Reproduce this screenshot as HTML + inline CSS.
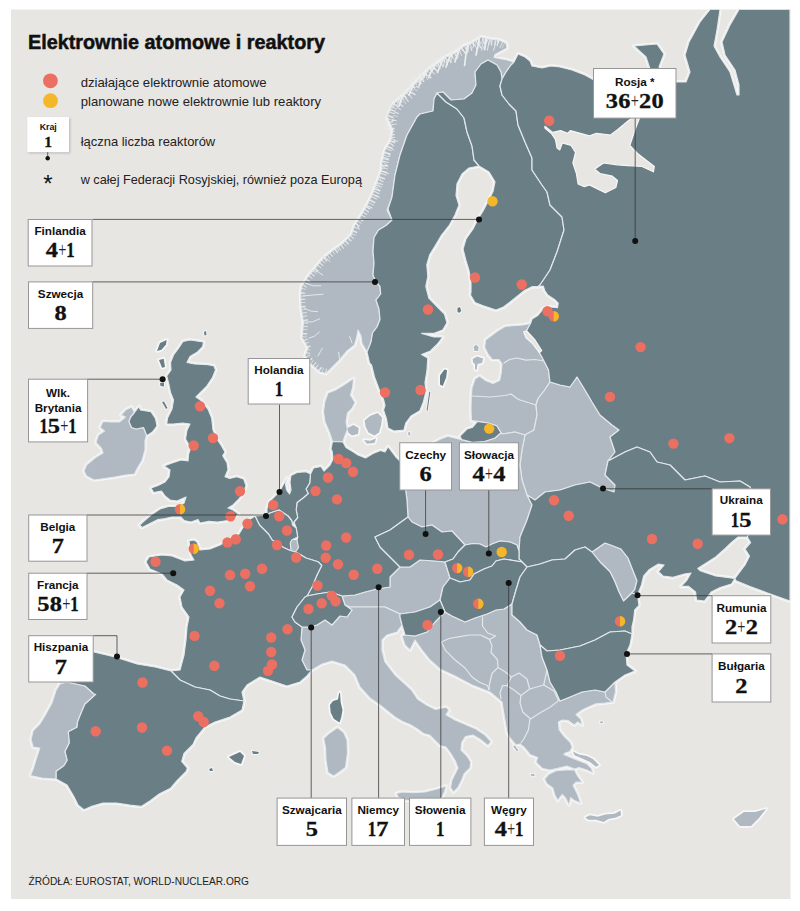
<!DOCTYPE html>
<html><head><meta charset="utf-8"><title>Elektrownie atomowe i reaktory</title>
<style>html,body{margin:0;padding:0;background:#fff}body{width:800px;height:911px;overflow:hidden}svg{display:block}text{font-family:"Liberation Sans",sans-serif}.n{font-family:"Liberation Serif",serif;font-weight:bold}</style></head><body>
<svg width="800" height="911" viewBox="0 0 800 911">
<defs><clipPath id="c"><rect x="11" y="9.5" width="779.5" height="889.5"/></clipPath><filter id="sh" x="-20%" y="-20%" width="140%" height="140%"><feGaussianBlur stdDeviation="1.2"/></filter></defs>
<rect width="800" height="911" fill="#fff"/>
<rect x="11" y="9.5" width="779.5" height="889.5" fill="#e8e6e2"/>
<g clip-path="url(#c)">
<g fill="#f6f7f6" stroke="#f6f7f6" stroke-width="3.6" stroke-linejoin="round">
<polygon points="367,352 371,342 372.5,333 377,327 380,319.5 379,309 376,300 380.7,294 380,286.5 375.5,281 373,275 374,263 373,251 374,237.5 378.5,230 386,225.5 392,220 388,209 391,200 392,197 395,175 400,155 407,135 417,117 420,114 433,111 434,99 437,93 446,102 457,109 464,118 467,132 472,146 474,160 479,166 469,168 462,174 457,183.7 456,195.5 459,205 455,215 449.5,225 441.6,235 435.7,245 429.7,254.8 426.8,264.7 427.8,276.5 425.8,286.4 428.8,298 437.5,307 444.5,314 447,322.8 442.7,330 434,333.4 421.6,333.4 434,337 442.7,337 437.5,344 430.4,351 421.6,354.5 427.8,358 427,370.3 425,382.6 426,391.4 423.4,402 419.9,410.7 411,416 405.8,423 404,430 394,431 388,428 386.5,419 383.5,410 385,405.5 383.5,399.5 379,389 374.5,377 371.5,365 369.5,363"/>
<polygon points="444.5,369.4 447,370.3 446.2,377.3 442.7,386 440,384.4 440,375.6"/>
<polygon points="429.3,391.4 430.3,392 427.6,410.7 426.6,410.5" stroke-width="1.8"/>
<polygon points="457.4,308 460,307 461.3,311 459,313 457.5,311.5" stroke-width="1.8"/>
<polygon points="437,93 443,92 451,100 464,99 472,93 476,85 475,72 481,64 488,60 497,65 501,72 502,79 500,86 502,95 509,104 516,111 518,125 525,142 532,158 532,170 542,185 547,192 550,205 562,217 564,230 557,252 550,270 540,285 538,286.7 532,286.7 524.5,290.5 517,296.5 509.5,302.5 503.5,307 496,310 491.5,308.5 482.5,305.5 475,302.5 470.5,295 471,292 471,282.4 469,270.6 466,260.7 463,249 466,239 473,229 478,219 483,211 489,199.5 493,191.6 495,181.7 489,172 479,166 474,160 472,146 467,132 464,118 457,109 446,102"/>
<polygon points="514,62 518,54 525,57 530,61 532,66 542,68 551,66 560,67 572,70 585,75 594,80 600,85 625,95 645,100 650,69 646,57 634,46 657,44 664,54 659,67 665,75 675,82 686,82 690,72 685,55 689,42 700,22 710,9.5 720,9.5 717,30 714,46 720,57 730,72 737,95 739,95 739,85 735,70 725,55 722,42 730,25 739,9.5 790,9.5 790,601 767.5,593 749.5,586.4 736,580.7 734.9,578.5 738.2,574 745,565 749.5,556 745,549 750.6,542.5 747.2,537 758,510 750,487 740,481 720,482 705,476 685,480 680,475 670,465 657,462 650,452 637,447 625,452 610,460 608,461 615,452 610,437 619,430 612,425 600,415 592,402 585,390 577,377 570,387 560,385 550,382 548.5,370 544,361 539.5,352.7 535,343 526,331.7 530.5,323.5 532,319 538,315.2 544,307.7 550,307 557.5,307.7 558.2,303.2 554.5,299.5 547.7,295 544.7,290.5 543.2,286 538,286.7 540,285 550,270 557,252 564,230 562,217 550,205 547,192 542,185 532,170 532,158 525,142 518,125 516,111 509,104 502,95 500,86 502,79 506,72 511,65"/>
<polygon points="460,436.2 467,429 472.2,427.5 477.5,421.4 488,423 496.7,425.7 501,432.7 495,438 484.5,441.5 472.2,442.4 461.7,439.7"/>
<polygon points="608,461 610,460 625,452 637,447 650,452 657,462 670,465 680,475 685,480 705,476 720,482 740,481 750,487 758,510 747.2,537 738.2,537 731.5,542.5 724.7,549 715.7,557 706.7,562.7 697.7,568.4 700,570.6 706.7,573 715.7,576 727,577.4 734.9,578.5 731.5,584 720.2,587.5 711.2,592 704.5,601 696.6,600 695.5,592 688.7,586.4 681,586.4 686.5,580.7 691,573 684.2,574 673,577.4 663,576 658.4,571.7 664,565 658.4,564 649.4,569.5 643.7,576 641.5,585 637.5,595 632,593 623.5,601 628,597.6 634.7,589.7 637,580.7 632.5,569.5 628,558 621,549 610,544.7 605,543 592,552 585,547 575,550 565,559 552,560 540,564 527,567 522,562 519,559 519,551 520,537 527,520 532,505 527,495 535,500 545,492 560,490 575,485 590,482 602,488 614,492 615,485 605,475"/>
<polygon points="332.5,441.5 331,449 332.2,451.5 333,459 330,465 324,471 321,466.5 313.5,468 310.5,474 309.7,483 306,489 308.2,493.5 303,498 297,502.5 296.2,510 297.7,517.5 294,522 296.2,528 297.7,537 297,540 298.5,547.5 295.5,552 298.5,553.5 306,558 318,561.7 321.7,565.5 317,575 312,587 307,596 317,594 330,592 342,596 355,595 365,592 377,589 390,587 390,577 400,567 390,557 380,547 375,537 390,530 408,517 407,500 405,485 405,470 400,461 395.5,456.5 391,450.5 388,446.7 385,452 380.5,450.5 373,453.5 365.5,458 358,455 353.5,452 346,447.5 343,442"/>
<polygon points="310.5,474 306,471.7 297,472.5 291,475.5 290,482 291,490 289.5,494 286.5,490 285.5,484 287,478 284.2,483 279.7,491 276,495 270,501 267,508.5 267,515 270,513 279,510 288,516 291.7,520.5 292.5,525 294,522 297.7,517.5 296.2,510 297,502.5 303,498 308.2,493.5 306,489 309.7,483"/>
<polygon points="267,515 255,516 259.5,525 268.5,534 272.2,540 283.5,547.5 290.2,550.5 291,550.5 290.2,543 291.7,540 297.7,537 296.2,528 292.5,525 291.7,520.5 288,516 279,510 270,513"/>
<polygon points="255,516 247,521 239,534 230,539 220,545 210,549 200,550 197,542 194,540 189,541 191,555 194,560 185,561 172,556 162,555 149,557 146,562 150,569 162,574 167,580 177,585 184,590 180,597 182,607 189,617 187,627 186,640 184,655 180,670 171,671 180,680 195,687 210,690 220,696 230,699 244,701 242,692 247,685 260,677 272,681 287,686 300,682 307,676 312,670 307,670 302,660 305,650 301,640 302,627 295,622 292,617 297,607 305,597 307,596 312,587 317,575 321.7,565.5 318,561.7 306,558 298.5,553.5 295.5,552 290.2,550.5 283.5,547.5 272.2,540 268.5,534 259.5,525"/>
<polygon points="340,692.5 340.7,702.5 342.5,710 341.2,717.5 339.5,722.5 333.7,718.7 330.7,712.5 330,705 333,701 338,699.5 339,693.7"/>
<polygon points="292,617 297,607 305,597 307,596 317,594 330,592 342,596 345,605 352,610 347,617 340,616 332,625 325,620 317,625 310,627 302,627 295,622"/>
<polygon points="375,537 390,530 408,517 412,522 422,527 432,525 442,532 452,531 465,545 458,552 453,559 445,562 435,561 420,560 410,567 400,567 390,557 380,547"/>
<polygon points="445,562 453,559 458,552 465,545 473,543.5 480,544 486,547 492,544 500,541 510,542 517,545 519,551 519,559 522,562 504,559 496,561 492,566 484,569 474,574 470,580 460,582 450,578"/>
<polygon points="450,578 460,582 470,580 474,574 484,569 492,566 496,561 504,559 522,562 527,567 520,577 516,590 512,604 504,609 496,610 487,614 475,618 465,622 452,616 445,612 440,600 443,587"/>
<polygon points="400,617 400,614 415,612 430,607 440,600 445,612 435,622 427,632 415,636 405,635 402,625"/>
<polygon points="527,567 540,564 552,560 565,559 575,550 585,547 592,552 600,562 610,571.7 614.5,580.7 619,592 623.5,601 632,593 637.5,595 639,605.5 634.7,610 633.6,620 632,627 632,634 625,631 610,632 595,640 580,646 560,650 547,651 540,645 537,635 527,630 520,622 512,615 512,604 516,590 520,577"/>
<polygon points="540,645 547,651 560,650 580,646 595,640 610,632 625,631 632,634 630,645 626,654 627,665 635,671 625,675 615,682 605,692 595,690 582,692 570,697 560,701 556,692 550,682 547,670 542,657"/>
<polygon points="55,660 60,650 75,648 94,652 115,657 137,664 155,667 171,671 180,680 195,687 210,690 220,696 230,699 244,701 242,710 230,717 215,722 205,727 196,738 193,744.5 184,753.5 181.7,761.4 187.4,768 186.2,771.5 177.2,780.5 170.5,788.4 159.2,794 150.2,800.7 141.2,806.4 130,805.2 116.5,803 103,803 91.7,806.4 83.9,809.7 78.2,805.2 73.7,796.2 67,785 56.2,779 56.2,771.2 63.9,765.7 67.2,760.2 65,751.5 69.4,742.7 68.3,731.7 77,727.3 77.6,721.8 81.5,712 84.8,704.3 95.7,694.4 94,694 85,686 67,682 60,683 55,670"/>
<polygon points="229,757 240,752 244,756 241,764 235,762"/>
<polygon points="252,751 259,752 258,754 253,754" stroke-width="1.8"/>
<polygon points="209,769 212,768 213,771 210,771" stroke-width="1.8"/>
<polygon points="183,341.5 190,340 203.5,342 202.7,346.7 197.5,352 190,356.5 187,362.5 194.5,364 208,364.7 214,366 215.5,370 212.5,377.5 206.5,386.5 200.5,392.5 196,397 200.5,400 208,409 211.7,418 213,430 217.5,440 221,445 225,452 222.7,455.7 227,462.7 228,469.7 225,476.7 229.7,478.5 236.7,476.7 243.7,479 246,485.5 243.7,492.5 238.5,499.5 233,505 228,508 233,510 238.5,514 235,517 228,520.5 217.5,522 208.7,521.4 200,523 198,519.6 191,522 184,520.5 180.7,517 172,517 165,518.7 158,519.6 149,524 142,527.5 139.6,525 144,521 151,515 160,509 168.5,506.5 179,506.5 184,503 186,497 177,501 170,500 165,496 161.5,491 153.6,492.5 151,488 158,485.5 165,482 169,477 170,470 164,466 172,463 181,460 188,461 188.6,454 191,447 189,445 185.5,439 187,430 190,424 182.5,423 173.5,424 166.7,424 167.5,418 172,409 173.5,400 170.5,392.5 169,385 166.7,376 171,370 170.5,362.5 173.5,355 178,349"/>
<polygon points="134.5,412.5 139,406.5 140.5,410 151,411.7 155.5,418.5 157,426 152.5,432 148,435 146.5,435 143.5,427.5 136,429 131.5,427.5 129,421.5 130.7,417"/>
<polygon points="157,351 160,343 166.7,340 166,344.5 161.5,349.7"/>
<polygon points="159,360 163.7,358.7 165,367 162,367.7"/>
<polygon points="160,383 164,382.5 164,386.5 160.5,386" stroke-width="1.8"/>
<polygon points="162,402 164,401.5 167.5,408 166,409" stroke-width="1.8"/>
<polygon points="204,332 206,331 206.5,335 204.5,335.5" stroke-width="1.8"/>
<polygon points="367,352 366.5,351 362,343.5 361,336 358,330 356.7,337.5 354.5,345 347,351 339.5,360 332,367.5 326,373.5 320,372 309.5,363 305,355.5 308,348 302,337.5 303.5,322.5 301,307.5 300.5,292.5 302,285.5 308,276.5 315.5,267.5 323,258.5 332,251 342.5,243.5 351.5,234.5 354.5,225.5 360.5,216.5 366.5,206 372.5,194 377,182 381.5,170 382,162 385,150 391,140 393,130 387,117 392,105 407,92 420,78 429,69 437,64 446,57 455,53 464,46 472,43 481,37 490,39 499,40 506,43 507,48 495,54.5 494,57.5 507,60 514,62 511,65 506,72 502,79 501,72 497,65 488,60 481,64 475,72 476,85 472,93 464,99 451,100 443,92 437,93 434,99 433,111 420,114 417,117 407,135 400,155 395,175 392,197 391,200 387,210 392,220 386,225.5 378.5,230 374,237.5 373,251 374,263 373,275 375.5,281 380,286.5 380.7,294 376,300 379,309 380,319.5 377,327 372.5,333 371,342"/>
<polygon points="530.5,323.5 523,325 512.5,325.7 505,326.5 497.5,331 491.5,335.5 485.5,340 484.7,347.5 488.5,355 492.2,359.5 499,359.5 502,364 501.2,373 499.7,380.5 493,383.5 485.5,380.5 479.5,376 475,379 472,388 471.2,398.5 471,410 471.4,420.5 477.5,421.4 488,423 496.7,425.7 501,432.7 502,434 515,432 525,435 534,430 537,415 536,405 538,398.5 544,391 550,382 548.5,370 544,361 539.5,352.7 535,343 526,331.7"/>
<polygon points="473.5,347 476,344.5 478.7,347 478,351 474.5,351" stroke-width="1.8"/>
<polygon points="472.7,359 477,356.5 483.2,358.5 482,363 477.5,364 476.5,370 475,369 475,364 473,362.5"/>
<polygon points="536,405 538,398.5 544,391 550,382 560,385 570,387 577,377 585,390 592,402 600,415 612,425 619,430 610,437 615,452 608,461 605,475 615,485 614,492 602,488 590,482 575,485 560,490 545,492 535,500 527,495 522,480 520,465 522,450 525,435 534,430 537,415"/>
<polygon points="400,461 420,452 435.5,441.5 440.7,438.9 447.7,436.2 454.7,438 461.7,439.7 472.2,442.4 484.5,441.5 495,438 501,432.7 502,434 515,432 525,435 522,450 520,465 522,480 527,495 532,505 527,520 520,537 519,551 517,545 510,542 500,541 492,544 486,547 480,544 473,543.5 465,545 452,531 442,532 432,525 422,527 412,522 408,517 407,500 405,485 405,470"/>
<polygon points="291.7,540 297,540 298.5,547.5 295.5,552 291,550.5 290.2,543"/>
<polygon points="342,596 355,595 365,592 377,589 390,587 390,577 400,567 410,567 420,560 435,561 445,562 450,578 443,587 440,600 430,607 415,612 400,614 385,607 365,607 350,607 345,605"/>
<polygon points="592,552 605,543 610,544.7 621,549 628,558 632.5,569.5 637,580.7 634.7,589.7 628,597.6 623.5,601 619,592 614.5,580.7 610,571.7 600,562"/>
<polygon points="405,635 402,636 405,645 410,650 415,640 422,650 430,660 440,669 455,676 472,685 490,692 502,702 505,720 507,732 510,738 516,745 520,744 523.8,746.9 530,754.5 537.7,757.6 536,762.2 542.3,768.4 550,770 557.6,768.4 566.9,766 574.5,769 579,767.6 586.8,770 593,773 591.4,768.4 586.8,763.8 579,760.7 571.5,757.6 563.8,754.5 565.3,753 570,751.5 572.2,747 570,742 563.8,736 559.2,730 558.4,722 562.2,720 568.4,720.7 571.5,723 574.5,725 577.6,722 582.2,725 580.7,719 576,714.6 582.2,710 588.4,707 596,703.8 605.3,703 613,702 615.5,692 615,682 605,692 595,690 582,692 570,697 560,701 556,692 550,682 547,670 542,657 540,645 537,635 527,630 520,622 512,615 512,604 504,609 496,610 487,614 475,618 465,622 452,616 445,612 435,622 427,632 415,636"/>
<polygon points="574.5,770 577.6,776 582.2,782.2 576,782.2 573,785.3 577.6,794.5 580.7,803 574.5,800.6 570.7,797.6 569,805 565.3,797.6 562.2,794.5 557.6,800.6 554.6,794.5 553,788.3 546.9,783.7 544.6,779 548.4,774.5 556,770.7 565.3,770"/>
<polygon points="573,751.5 579,754.5 586.8,756 593,759 599,765 596,766.8 590,762 582.2,758.4 574.5,755.3"/>
<polygon points="585.3,817.5 590,815.2 597.6,816.8 605.3,814.5 614.5,813.7 620.6,810.6 621,815.2 616,817.5 608.3,819 603.7,822 596,819.8 588.4,819.8"/>
<polygon points="513,746 515,745.5 518.5,750.5 517,751.5" stroke-width="1.8"/>
<polygon points="530.7,774 534,773.7 534.6,776 531.5,776.3" stroke-width="1.8"/>
<polygon points="600,721.5 603,721.3 603,723 600.3,723.3" stroke-width="1.8"/>
<polygon points="734,819 744,812 755,812 766,809 759,818 751,826 740,826"/>
<polygon points="302,627 310,627 317,625 325,620 332,625 340,616 347,617 352,610 345,605 350,607 365,607 385,607 400,614 400,617 402,625 397,632 387,635 382,640 382,650 385,662 395,675 405,684 411.5,690 417.5,699 426.5,705 435.5,709.5 446,707.2 449,710.2 446,714.7 455,720 465.5,724.5 476,729 485,735 491,741.7 488,745.5 480.5,739.5 473,735 465.5,736.5 461.7,742.5 461,750 467,756 470.7,762 470,768 464,774 461.7,780 458,787.5 453.5,792 450.5,787.5 452,780 455,774 458,768 455,760.5 450.5,753 446,747 440,745.5 434,739.5 429.5,735 423.5,733.5 417.5,729 410,724.5 402.5,721.5 395,717 387.5,711 380,705 370,698 360,687 355,675 345,665 332,661 322,664 312,670 307,670 302,660 305,650 301,640"/>
<polygon points="396.5,793.5 402.5,792 413,792.7 425,792 437,789 446,786 444.5,792 441.5,798 436,803 420,802 405,800 398,797"/>
<polygon points="337.5,727.5 343.7,732.5 347,740 347.5,752.5 345.5,767.5 338.7,772.5 333.7,776 328,772.5 326,760 325.5,747.5 323.7,738.7 328.7,733.7"/>
<polygon points="60,684 67,682 85,686 94,694 95.7,694.4 84.8,704.3 81.5,712 77.6,721.8 77,727.3 68.3,731.7 69.4,742.7 65,751.5 67.2,760.2 63.9,765.7 56.2,771.2 56.2,779 42,778 30.4,775.6 33.2,769 36.5,758 39.8,748.2 33.2,747 31,739.4 33.2,730.6 39.8,724 45.2,715.2 51.8,703.2 56.2,690"/>
<polygon points="131.5,407 125.5,410 121,415 125.5,417 119.5,422 110.5,422 103,421.5 100,427.5 104.5,431 98.5,435 96,442.5 101.5,448.5 103,453 95.5,457.5 86.5,465 84,471 86.5,476 94,480 104.5,478.5 115,477 125.5,475 134.5,474 137.5,468 142,460.5 145,450 145,441 146.5,435 143.5,427.5 136,429 131.5,427.5 129,421.5 130.7,417 134.5,412.5"/>
<polygon points="353.5,378.5 344.5,384.5 335.5,390 328,393 325,401 323.5,411.5 325,422 329.5,432.5 332.5,441.5 343,442 344.5,437 347.5,429.5 346,422 347.5,413 352,408.5 355,402.5 350.5,395 352.7,387.5"/>
<polygon points="347.5,428 353.5,425 358.7,428 358,434 352,435.5 348.2,432.5"/>
<polygon points="364.7,420.5 370,416 377.5,413 382,417.5 381.2,425 379,432.5 374.5,435.5 368.5,432.5 365.5,426.5"/>
<polygon points="364,440 370,440.7 376,438.5 374.5,443 367,443.7"/>
<polygon points="408,432.5 410,432 410.5,435.5 408.5,435.5" stroke-width="1.8"/>
</g>
<g fill="#b0b9c1" stroke="#e2e7ea" stroke-width="1.2" stroke-linejoin="round">
<polygon points="367,352 366.5,351 362,343.5 361,336 358,330 356.7,337.5 354.5,345 347,351 339.5,360 332,367.5 326,373.5 320,372 309.5,363 305,355.5 308,348 302,337.5 303.5,322.5 301,307.5 300.5,292.5 302,285.5 308,276.5 315.5,267.5 323,258.5 332,251 342.5,243.5 351.5,234.5 354.5,225.5 360.5,216.5 366.5,206 372.5,194 377,182 381.5,170 382,162 385,150 391,140 393,130 387,117 392,105 407,92 420,78 429,69 437,64 446,57 455,53 464,46 472,43 481,37 490,39 499,40 506,43 507,48 495,54.5 494,57.5 507,60 514,62 511,65 506,72 502,79 501,72 497,65 488,60 481,64 475,72 476,85 472,93 464,99 451,100 443,92 437,93 434,99 433,111 420,114 417,117 407,135 400,155 395,175 392,197 391,200 387,210 392,220 386,225.5 378.5,230 374,237.5 373,251 374,263 373,275 375.5,281 380,286.5 380.7,294 376,300 379,309 380,319.5 377,327 372.5,333 371,342"/>
<polygon points="530.5,323.5 523,325 512.5,325.7 505,326.5 497.5,331 491.5,335.5 485.5,340 484.7,347.5 488.5,355 492.2,359.5 499,359.5 502,364 501.2,373 499.7,380.5 493,383.5 485.5,380.5 479.5,376 475,379 472,388 471.2,398.5 471,410 471.4,420.5 477.5,421.4 488,423 496.7,425.7 501,432.7 502,434 515,432 525,435 534,430 537,415 536,405 538,398.5 544,391 550,382 548.5,370 544,361 539.5,352.7 535,343 526,331.7"/>
<polygon points="473.5,347 476,344.5 478.7,347 478,351 474.5,351" stroke="none"/>
<polygon points="472.7,359 477,356.5 483.2,358.5 482,363 477.5,364 476.5,370 475,369 475,364 473,362.5" stroke="none"/>
<polygon points="536,405 538,398.5 544,391 550,382 560,385 570,387 577,377 585,390 592,402 600,415 612,425 619,430 610,437 615,452 608,461 605,475 615,485 614,492 602,488 590,482 575,485 560,490 545,492 535,500 527,495 522,480 520,465 522,450 525,435 534,430 537,415"/>
<polygon points="400,461 420,452 435.5,441.5 440.7,438.9 447.7,436.2 454.7,438 461.7,439.7 472.2,442.4 484.5,441.5 495,438 501,432.7 502,434 515,432 525,435 522,450 520,465 522,480 527,495 532,505 527,520 520,537 519,551 517,545 510,542 500,541 492,544 486,547 480,544 473,543.5 465,545 452,531 442,532 432,525 422,527 412,522 408,517 407,500 405,485 405,470"/>
<polygon points="291.7,540 297,540 298.5,547.5 295.5,552 291,550.5 290.2,543" stroke="none"/>
<polygon points="342,596 355,595 365,592 377,589 390,587 390,577 400,567 410,567 420,560 435,561 445,562 450,578 443,587 440,600 430,607 415,612 400,614 385,607 365,607 350,607 345,605"/>
<polygon points="592,552 605,543 610,544.7 621,549 628,558 632.5,569.5 637,580.7 634.7,589.7 628,597.6 623.5,601 619,592 614.5,580.7 610,571.7 600,562"/>
<polygon points="405,635 402,636 405,645 410,650 415,640 422,650 430,660 440,669 455,676 472,685 490,692 502,702 505,720 507,732 510,738 516,745 520,744 523.8,746.9 530,754.5 537.7,757.6 536,762.2 542.3,768.4 550,770 557.6,768.4 566.9,766 574.5,769 579,767.6 586.8,770 593,773 591.4,768.4 586.8,763.8 579,760.7 571.5,757.6 563.8,754.5 565.3,753 570,751.5 572.2,747 570,742 563.8,736 559.2,730 558.4,722 562.2,720 568.4,720.7 571.5,723 574.5,725 577.6,722 582.2,725 580.7,719 576,714.6 582.2,710 588.4,707 596,703.8 605.3,703 613,702 615.5,692 615,682 605,692 595,690 582,692 570,697 560,701 556,692 550,682 547,670 542,657 540,645 537,635 527,630 520,622 512,615 512,604 504,609 496,610 487,614 475,618 465,622 452,616 445,612 435,622 427,632 415,636"/>
<polygon points="574.5,770 577.6,776 582.2,782.2 576,782.2 573,785.3 577.6,794.5 580.7,803 574.5,800.6 570.7,797.6 569,805 565.3,797.6 562.2,794.5 557.6,800.6 554.6,794.5 553,788.3 546.9,783.7 544.6,779 548.4,774.5 556,770.7 565.3,770"/>
<polygon points="573,751.5 579,754.5 586.8,756 593,759 599,765 596,766.8 590,762 582.2,758.4 574.5,755.3" stroke="none"/>
<polygon points="585.3,817.5 590,815.2 597.6,816.8 605.3,814.5 614.5,813.7 620.6,810.6 621,815.2 616,817.5 608.3,819 603.7,822 596,819.8 588.4,819.8" stroke="none"/>
<polygon points="513,746 515,745.5 518.5,750.5 517,751.5" stroke="none"/>
<polygon points="530.7,774 534,773.7 534.6,776 531.5,776.3" stroke="none"/>
<polygon points="600,721.5 603,721.3 603,723 600.3,723.3" stroke="none"/>
<polygon points="734,819 744,812 755,812 766,809 759,818 751,826 740,826" stroke="none"/>
<polygon points="302,627 310,627 317,625 325,620 332,625 340,616 347,617 352,610 345,605 350,607 365,607 385,607 400,614 400,617 402,625 397,632 387,635 382,640 382,650 385,662 395,675 405,684 411.5,690 417.5,699 426.5,705 435.5,709.5 446,707.2 449,710.2 446,714.7 455,720 465.5,724.5 476,729 485,735 491,741.7 488,745.5 480.5,739.5 473,735 465.5,736.5 461.7,742.5 461,750 467,756 470.7,762 470,768 464,774 461.7,780 458,787.5 453.5,792 450.5,787.5 452,780 455,774 458,768 455,760.5 450.5,753 446,747 440,745.5 434,739.5 429.5,735 423.5,733.5 417.5,729 410,724.5 402.5,721.5 395,717 387.5,711 380,705 370,698 360,687 355,675 345,665 332,661 322,664 312,670 307,670 302,660 305,650 301,640"/>
<polygon points="396.5,793.5 402.5,792 413,792.7 425,792 437,789 446,786 444.5,792 441.5,798 436,803 420,802 405,800 398,797"/>
<polygon points="337.5,727.5 343.7,732.5 347,740 347.5,752.5 345.5,767.5 338.7,772.5 333.7,776 328,772.5 326,760 325.5,747.5 323.7,738.7 328.7,733.7"/>
<polygon points="60,684 67,682 85,686 94,694 95.7,694.4 84.8,704.3 81.5,712 77.6,721.8 77,727.3 68.3,731.7 69.4,742.7 65,751.5 67.2,760.2 63.9,765.7 56.2,771.2 56.2,779 42,778 30.4,775.6 33.2,769 36.5,758 39.8,748.2 33.2,747 31,739.4 33.2,730.6 39.8,724 45.2,715.2 51.8,703.2 56.2,690"/>
<polygon points="131.5,407 125.5,410 121,415 125.5,417 119.5,422 110.5,422 103,421.5 100,427.5 104.5,431 98.5,435 96,442.5 101.5,448.5 103,453 95.5,457.5 86.5,465 84,471 86.5,476 94,480 104.5,478.5 115,477 125.5,475 134.5,474 137.5,468 142,460.5 145,450 145,441 146.5,435 143.5,427.5 136,429 131.5,427.5 129,421.5 130.7,417 134.5,412.5"/>
<polygon points="353.5,378.5 344.5,384.5 335.5,390 328,393 325,401 323.5,411.5 325,422 329.5,432.5 332.5,441.5 343,442 344.5,437 347.5,429.5 346,422 347.5,413 352,408.5 355,402.5 350.5,395 352.7,387.5"/>
<polygon points="347.5,428 353.5,425 358.7,428 358,434 352,435.5 348.2,432.5" stroke="none"/>
<polygon points="364.7,420.5 370,416 377.5,413 382,417.5 381.2,425 379,432.5 374.5,435.5 368.5,432.5 365.5,426.5" stroke="none"/>
<polygon points="364,440 370,440.7 376,438.5 374.5,443 367,443.7" stroke="none"/>
<polygon points="408,432.5 410,432 410.5,435.5 408.5,435.5" stroke="none"/>
</g>
<g fill="#6a7e86" stroke="#e2e7ea" stroke-width="1.2" stroke-linejoin="round">
<polygon points="367,352 371,342 372.5,333 377,327 380,319.5 379,309 376,300 380.7,294 380,286.5 375.5,281 373,275 374,263 373,251 374,237.5 378.5,230 386,225.5 392,220 388,209 391,200 392,197 395,175 400,155 407,135 417,117 420,114 433,111 434,99 437,93 446,102 457,109 464,118 467,132 472,146 474,160 479,166 469,168 462,174 457,183.7 456,195.5 459,205 455,215 449.5,225 441.6,235 435.7,245 429.7,254.8 426.8,264.7 427.8,276.5 425.8,286.4 428.8,298 437.5,307 444.5,314 447,322.8 442.7,330 434,333.4 421.6,333.4 434,337 442.7,337 437.5,344 430.4,351 421.6,354.5 427.8,358 427,370.3 425,382.6 426,391.4 423.4,402 419.9,410.7 411,416 405.8,423 404,430 394,431 388,428 386.5,419 383.5,410 385,405.5 383.5,399.5 379,389 374.5,377 371.5,365 369.5,363"/>
<polygon points="444.5,369.4 447,370.3 446.2,377.3 442.7,386 440,384.4 440,375.6" stroke="none"/>
<polygon points="429.3,391.4 430.3,392 427.6,410.7 426.6,410.5" stroke="none"/>
<polygon points="457.4,308 460,307 461.3,311 459,313 457.5,311.5" stroke="none"/>
<polygon points="437,93 443,92 451,100 464,99 472,93 476,85 475,72 481,64 488,60 497,65 501,72 502,79 500,86 502,95 509,104 516,111 518,125 525,142 532,158 532,170 542,185 547,192 550,205 562,217 564,230 557,252 550,270 540,285 538,286.7 532,286.7 524.5,290.5 517,296.5 509.5,302.5 503.5,307 496,310 491.5,308.5 482.5,305.5 475,302.5 470.5,295 471,292 471,282.4 469,270.6 466,260.7 463,249 466,239 473,229 478,219 483,211 489,199.5 493,191.6 495,181.7 489,172 479,166 474,160 472,146 467,132 464,118 457,109 446,102"/>
<polygon points="514,62 518,54 525,57 530,61 532,66 542,68 551,66 560,67 572,70 585,75 594,80 600,85 625,95 645,100 650,69 646,57 634,46 657,44 664,54 659,67 665,75 675,82 686,82 690,72 685,55 689,42 700,22 710,9.5 720,9.5 717,30 714,46 720,57 730,72 737,95 739,95 739,85 735,70 725,55 722,42 730,25 739,9.5 790,9.5 790,601 767.5,593 749.5,586.4 736,580.7 734.9,578.5 738.2,574 745,565 749.5,556 745,549 750.6,542.5 747.2,537 758,510 750,487 740,481 720,482 705,476 685,480 680,475 670,465 657,462 650,452 637,447 625,452 610,460 608,461 615,452 610,437 619,430 612,425 600,415 592,402 585,390 577,377 570,387 560,385 550,382 548.5,370 544,361 539.5,352.7 535,343 526,331.7 530.5,323.5 532,319 538,315.2 544,307.7 550,307 557.5,307.7 558.2,303.2 554.5,299.5 547.7,295 544.7,290.5 543.2,286 538,286.7 540,285 550,270 557,252 564,230 562,217 550,205 547,192 542,185 532,170 532,158 525,142 518,125 516,111 509,104 502,95 500,86 502,79 506,72 511,65"/>
<polygon points="460,436.2 467,429 472.2,427.5 477.5,421.4 488,423 496.7,425.7 501,432.7 495,438 484.5,441.5 472.2,442.4 461.7,439.7"/>
<polygon points="608,461 610,460 625,452 637,447 650,452 657,462 670,465 680,475 685,480 705,476 720,482 740,481 750,487 758,510 747.2,537 738.2,537 731.5,542.5 724.7,549 715.7,557 706.7,562.7 697.7,568.4 700,570.6 706.7,573 715.7,576 727,577.4 734.9,578.5 731.5,584 720.2,587.5 711.2,592 704.5,601 696.6,600 695.5,592 688.7,586.4 681,586.4 686.5,580.7 691,573 684.2,574 673,577.4 663,576 658.4,571.7 664,565 658.4,564 649.4,569.5 643.7,576 641.5,585 637.5,595 632,593 623.5,601 628,597.6 634.7,589.7 637,580.7 632.5,569.5 628,558 621,549 610,544.7 605,543 592,552 585,547 575,550 565,559 552,560 540,564 527,567 522,562 519,559 519,551 520,537 527,520 532,505 527,495 535,500 545,492 560,490 575,485 590,482 602,488 614,492 615,485 605,475"/>
<polygon points="332.5,441.5 331,449 332.2,451.5 333,459 330,465 324,471 321,466.5 313.5,468 310.5,474 309.7,483 306,489 308.2,493.5 303,498 297,502.5 296.2,510 297.7,517.5 294,522 296.2,528 297.7,537 297,540 298.5,547.5 295.5,552 298.5,553.5 306,558 318,561.7 321.7,565.5 317,575 312,587 307,596 317,594 330,592 342,596 355,595 365,592 377,589 390,587 390,577 400,567 390,557 380,547 375,537 390,530 408,517 407,500 405,485 405,470 400,461 395.5,456.5 391,450.5 388,446.7 385,452 380.5,450.5 373,453.5 365.5,458 358,455 353.5,452 346,447.5 343,442"/>
<polygon points="310.5,474 306,471.7 297,472.5 291,475.5 290,482 291,490 289.5,494 286.5,490 285.5,484 287,478 284.2,483 279.7,491 276,495 270,501 267,508.5 267,515 270,513 279,510 288,516 291.7,520.5 292.5,525 294,522 297.7,517.5 296.2,510 297,502.5 303,498 308.2,493.5 306,489 309.7,483"/>
<polygon points="267,515 255,516 259.5,525 268.5,534 272.2,540 283.5,547.5 290.2,550.5 291,550.5 290.2,543 291.7,540 297.7,537 296.2,528 292.5,525 291.7,520.5 288,516 279,510 270,513"/>
<polygon points="255,516 247,521 239,534 230,539 220,545 210,549 200,550 197,542 194,540 189,541 191,555 194,560 185,561 172,556 162,555 149,557 146,562 150,569 162,574 167,580 177,585 184,590 180,597 182,607 189,617 187,627 186,640 184,655 180,670 171,671 180,680 195,687 210,690 220,696 230,699 244,701 242,692 247,685 260,677 272,681 287,686 300,682 307,676 312,670 307,670 302,660 305,650 301,640 302,627 295,622 292,617 297,607 305,597 307,596 312,587 317,575 321.7,565.5 318,561.7 306,558 298.5,553.5 295.5,552 290.2,550.5 283.5,547.5 272.2,540 268.5,534 259.5,525"/>
<polygon points="340,692.5 340.7,702.5 342.5,710 341.2,717.5 339.5,722.5 333.7,718.7 330.7,712.5 330,705 333,701 338,699.5 339,693.7" stroke="none"/>
<polygon points="292,617 297,607 305,597 307,596 317,594 330,592 342,596 345,605 352,610 347,617 340,616 332,625 325,620 317,625 310,627 302,627 295,622"/>
<polygon points="375,537 390,530 408,517 412,522 422,527 432,525 442,532 452,531 465,545 458,552 453,559 445,562 435,561 420,560 410,567 400,567 390,557 380,547"/>
<polygon points="445,562 453,559 458,552 465,545 473,543.5 480,544 486,547 492,544 500,541 510,542 517,545 519,551 519,559 522,562 504,559 496,561 492,566 484,569 474,574 470,580 460,582 450,578"/>
<polygon points="450,578 460,582 470,580 474,574 484,569 492,566 496,561 504,559 522,562 527,567 520,577 516,590 512,604 504,609 496,610 487,614 475,618 465,622 452,616 445,612 440,600 443,587"/>
<polygon points="400,617 400,614 415,612 430,607 440,600 445,612 435,622 427,632 415,636 405,635 402,625"/>
<polygon points="527,567 540,564 552,560 565,559 575,550 585,547 592,552 600,562 610,571.7 614.5,580.7 619,592 623.5,601 632,593 637.5,595 639,605.5 634.7,610 633.6,620 632,627 632,634 625,631 610,632 595,640 580,646 560,650 547,651 540,645 537,635 527,630 520,622 512,615 512,604 516,590 520,577"/>
<polygon points="540,645 547,651 560,650 580,646 595,640 610,632 625,631 632,634 630,645 626,654 627,665 635,671 625,675 615,682 605,692 595,690 582,692 570,697 560,701 556,692 550,682 547,670 542,657"/>
<polygon points="55,660 60,650 75,648 94,652 115,657 137,664 155,667 171,671 180,680 195,687 210,690 220,696 230,699 244,701 242,710 230,717 215,722 205,727 196,738 193,744.5 184,753.5 181.7,761.4 187.4,768 186.2,771.5 177.2,780.5 170.5,788.4 159.2,794 150.2,800.7 141.2,806.4 130,805.2 116.5,803 103,803 91.7,806.4 83.9,809.7 78.2,805.2 73.7,796.2 67,785 56.2,779 56.2,771.2 63.9,765.7 67.2,760.2 65,751.5 69.4,742.7 68.3,731.7 77,727.3 77.6,721.8 81.5,712 84.8,704.3 95.7,694.4 94,694 85,686 67,682 60,683 55,670"/>
<polygon points="229,757 240,752 244,756 241,764 235,762" stroke="none"/>
<polygon points="252,751 259,752 258,754 253,754" stroke="none"/>
<polygon points="209,769 212,768 213,771 210,771" stroke="none"/>
<polygon points="183,341.5 190,340 203.5,342 202.7,346.7 197.5,352 190,356.5 187,362.5 194.5,364 208,364.7 214,366 215.5,370 212.5,377.5 206.5,386.5 200.5,392.5 196,397 200.5,400 208,409 211.7,418 213,430 217.5,440 221,445 225,452 222.7,455.7 227,462.7 228,469.7 225,476.7 229.7,478.5 236.7,476.7 243.7,479 246,485.5 243.7,492.5 238.5,499.5 233,505 228,508 233,510 238.5,514 235,517 228,520.5 217.5,522 208.7,521.4 200,523 198,519.6 191,522 184,520.5 180.7,517 172,517 165,518.7 158,519.6 149,524 142,527.5 139.6,525 144,521 151,515 160,509 168.5,506.5 179,506.5 184,503 186,497 177,501 170,500 165,496 161.5,491 153.6,492.5 151,488 158,485.5 165,482 169,477 170,470 164,466 172,463 181,460 188,461 188.6,454 191,447 189,445 185.5,439 187,430 190,424 182.5,423 173.5,424 166.7,424 167.5,418 172,409 173.5,400 170.5,392.5 169,385 166.7,376 171,370 170.5,362.5 173.5,355 178,349"/>
<polygon points="134.5,412.5 139,406.5 140.5,410 151,411.7 155.5,418.5 157,426 152.5,432 148,435 146.5,435 143.5,427.5 136,429 131.5,427.5 129,421.5 130.7,417"/>
<polygon points="157,351 160,343 166.7,340 166,344.5 161.5,349.7" stroke="none"/>
<polygon points="159,360 163.7,358.7 165,367 162,367.7" stroke="none"/>
<polygon points="160,383 164,382.5 164,386.5 160.5,386" stroke="none"/>
<polygon points="162,402 164,401.5 167.5,408 166,409" stroke="none"/>
<polygon points="204,332 206,331 206.5,335 204.5,335.5" stroke="none"/>
</g>
<g fill="#e8e6e2" stroke="#f6f7f6" stroke-width="1.2" stroke-linejoin="round">
<polygon points="544.9,126.3 552.7,132.4 560.6,130.6 567.6,133.3 570.3,130.6 589.5,135.9 596.5,133.3 610.5,135 617.5,129.8 628,121 631.5,118.4 640,95 648,95 639.4,118.4 635,129.8 629.8,145.5 638.5,154.3 654.3,166.5 653.4,171.8 642,166.5 628,165.6 617.5,164.8 603.5,163 594.8,169.1 600,173.5 612.3,176.1 617.5,180.5 615.8,187.5 605.3,192.8 596.5,188.4 589.5,184.9 584.3,186.6 578.1,184 576.4,173.5 572.9,163 575.5,152.5 571.1,145.5 562.4,142.9 559.8,149.9 557.1,148.1 555.4,139.4 551.9,134.1 544.9,128"/>
<polygon points="523.7,331.7 526.7,331 535,340 541.7,350.5 539.5,352.7 532,343 526,337.7"/>
</g>
<g fill="none" stroke="#e2e7ea" stroke-width="1.2" stroke-linejoin="round">
<polyline points="503.5,363.2 509.5,359.5 517,358 526,360.2 535,359.5 544,361"/>
<polyline points="472,396 490,397 505,395.5 511,394 517,398.5 520,400 536,405"/>
<polyline points="482.5,616.6 482.5,626 487.7,633 495.6,636 489.5,639.4 492,645.5 491,652.5 497.4,659.5 498,667.4"/>
<polyline points="489.5,639.4 480.7,635 470,635 459.7,636.7 449,638.5 441.4,642 445.7,650.7 454.5,659.5 465,668 472,677 479,682 487.7,685.7 489,690"/>
<polyline points="498,667.4 492,673.5 489.5,684 489,690"/>
<polyline points="498,667.4 505,671.7 511.4,677 507,685.7 502.6,685.7 500,692.7 501,699"/>
<polyline points="507,685.7 514,690 521,695.4"/>
<polyline points="511.4,677 519,673 527,679 529.7,689"/>
<polyline points="521,695.4 529.7,689 543.7,685 554,691 558.6,700.6 550.7,706.7 538.5,713.7 530.6,719 522.7,712 520,703 521,695.4"/>
<polyline points="530,718.4 528.4,730 523.8,739 520.5,743.5"/>
<polyline points="543.7,685 547,670"/>
<polyline points="612,702 606,697 605,692"/>
</g>
<g fill="none" stroke="#e6e9ea" stroke-width="0.95" stroke-linecap="round" stroke-linejoin="round">
<polyline points="373.821,194.94 375.794,195.99 379.478,197.372"/>
<polyline points="372.884,189.446 375.838,191.856 378.762,193.886"/>
<polyline points="374.115,184.62 375.344,186.548 378.209,188.11"/>
<polyline points="375.152,179.76 376.61,182.738 379.176,185.415"/>
<polyline points="377.786,175.379 379.574,178.317 381.775,181.498"/>
<polyline points="380.362,170.94 384.073,172.018 388.626,173.676"/>
<polyline points="379.63,165.508 382.795,166.753 384.696,167.919"/>
<polyline points="382.448,161.141 384.276,162.785 386.615,164.747"/>
<polyline points="381.709,155.709 384.443,157.464 388.352,158.841"/>
<polyline points="384.306,151.278 387.557,153.68 390.465,156.009"/>
<polyline points="388.127,147.242 391.414,148.543 393.905,150.348"/>
<polyline points="389.078,142.357 392.015,144.213 393.45,146.25"/>
<polyline points="390.857,138.064 393.468,139.407 397.607,141.477"/>
<polyline points="386.785,132.135 388.895,134.969 391.049,137.535"/>
<polyline points="388.491,127.933 387.546,129.802 386.308,132.138"/>
<polyline points="387.595,122.896 386.726,126.629 385.479,130.746"/>
<polyline points="388.638,118.222 388.01,122.151 385.604,126.637"/>
<polyline points="387.1,112.551 385.569,117.09 383.232,121.252"/>
<polyline points="391.724,108.727 388.44,112.298 386.017,116.405"/>
<polyline points="391.248,103.59 389.247,108.129 387.399,112.245"/>
<polyline points="394.163,99.4797 394.082,103.986 392.928,108.113"/>
<polyline points="399.071,96.4417 398.918,100.486 397.28,104.549"/>
<polyline points="403.496,93.3825 402.954,97.089 400.879,101.005"/>
<polyline points="406.174,89.7838 403.09,94.765 400.346,99.6302"/>
<polyline points="411.46,86.3176 408.244,89.723 406.424,93.8276"/>
<polyline points="411.131,81.167 410.165,85.7545 409.26,90.172"/>
<polyline points="412.783,76.6106 411.415,82.3261 410.372,87.5965"/>
<polyline points="420.134,74.5329 418.631,78.5051 416.366,83.171"/>
<polyline points="423.492,71.9678 420.449,76.548 419.189,81.4896"/>
<polyline points="428.279,69.3182 425.915,74.1929 422.36,79.6669"/>
<polyline points="428.726,64.8625 427.455,70.2326 425.647,75.2768"/>
<polyline points="432.677,61.4583 431.43,66.3016 431.534,70.9453"/>
<polyline points="435.87,58.3659 434.565,64.0804 434.656,69.3452"/>
<polyline points="440.437,56.1633 439.846,61.2832 437.757,65.9838"/>
<polyline points="445.649,53.9261 444.362,59.9703 443.685,65.8672"/>
<polyline points="452.19,51.8726 452.339,56.7838 450.516,62.2638"/>
<polyline points="453.292,48.1874 450.555,54.0128 449.409,59.4913"/>
<polyline points="460.418,46.3094 458.48,51.2526 457.896,56.7405"/>
<polyline points="463.476,43.3961 459.976,47.4278 457.89,51.6434"/>
<polyline points="468.212,41.8171 468.545,47.7641 466.965,53.8949"/>
<polyline points="471.874,39.8979 468.609,46.2134 465.877,52.3923"/>
<polyline points="477.673,38.5743 475.616,43.27 472.443,48.1549"/>
<polyline points="483.527,37.6973 483.295,42.9815 481.123,48.7896"/>
<polyline points="488.428,38.7886 485.474,44.405 481.561,50.5533"/>
<polyline points="491.479,39.1496 488.483,44.6567 487.372,50.1405"/>
<polyline points="496.056,39.5853 495.162,45.0976 493.499,50.4709"/>
<polyline points="305,283 312.878,285.759 320.757,285.778"/>
<polyline points="303,296 312.962,294.97 322.924,294.257"/>
<polyline points="304,308 310.761,311.123 317.523,311.623"/>
<polyline points="305,322 312.336,321.905 319.672,318.881"/>
<polyline points="309,338 314.196,336.365 319.392,332"/>
<polyline points="318,356 320.25,351.697 322.5,348.206"/>
<polyline points="312,270 317.438,271.697 322.876,275.071"/>
<polyline points="322,256 326.096,258.048 330.192,261.736"/>
<polyline points="333,244 335.893,246.537 338.785,250.894"/>
<polyline points="346,234 348,236.577 350,240.928"/>
<polyline points="356,222 357.69,225.997 359.381,229.25"/>
<polyline points="364,207 366.25,210.882 368.5,212.362"/>
<polyline points="340,360 339.305,357.082 338.611,352.122"/>
<polyline points="352,343 350.803,339.649 349.606,336.422"/>
</g>
<g fill="none" stroke="#eceeee" stroke-width="1.7" stroke-linecap="round" stroke-linejoin="round">
<polyline points="479.5,36.6 478,46 476,55"/>
<polyline points="468,42.7 466,54 464.6,65.5"/>
<polyline points="486.5,39 485.5,44 484.7,49.7"/>
<polyline points="460,48 457,55 455,62"/>
<polyline points="451.5,53 448.5,60 446,67"/>
<polyline points="442.7,60 440,66 437.5,72.5"/>
<polyline points="434,67 431,72 428.7,77.7"/>
<polyline points="425,74 421,80 419,86"/>
<polyline points="416,80 412,88 409,95"/>
<polyline points="405,93 401,100 399,106"/>
</g>
<polyline points="369.362,207.431 375.362,195.431 375.496,195.124 384.496,171.124 384.592,170.823 384.659,170.514 384.694,170.2 385.175,162.492 388.037,151.046 391.924,142.3 392.038,142.004 392.123,141.699 392.177,141.387 392.199,141.071 392.191,140.755 391.191,127.755 391.159,127.487 391.104,127.224 389.33,120.128 392.9,109.418 398.418,101.142 408.583,92.4296 408.831,92.1927 409.052,91.9307 409.244,91.6464 417.765,77.4454 425.931,73.3622 426.229,73.1925 426.508,72.992 426.763,72.7627 436.896,62.6299 445.431,58.3622 445.775,58.1626 463.418,46.4003 472.012,43.5358 472.057,43.5203 481.196,40.3217 489.306,42.1238 489.647,42.1804 498.079,43.1174 503.569,45.8622" fill="none" stroke="#eeefee" stroke-width="6.4" stroke-dasharray="1.3 2.1 0.8 1.7 1.7 2.6 1 1.5" opacity="0.85"/>
<polyline points="394.891,124.685 394.218,120.645 397.251,111.546 402.044,104.356 411.706,96.0741 412.327,95.4818 412.88,94.8266 413.36,94.116 421.161,81.1136 428.078,77.6554 428.823,77.2313 429.519,76.7299 430.157,76.1569 439.739,66.5748 447.578,62.6554 448.438,62.1564 465.546,50.7507 473.53,48.0895 473.643,48.0509 483.643,44.5509" fill="none" stroke="#eeefee" stroke-width="4.5" stroke-dasharray="0.9 2.9 1.4 3.4 0.7 2.3 1.2 4" opacity="0.85"/>
<polyline points="326.582,371.172 321.132,369.809 311.358,361.431 307.49,354.985 308.379,348.317 308.399,348.08 308.395,347.842 308.367,347.605 308.316,347.372 308.243,347.146 304.444,337.175 305.888,322.739 305.9,322.527 305.893,322.316 305.867,322.105 303.393,307.262 302.908,292.715 304.251,286.45 309.926,277.938 324.704,260.204 333.468,252.901 343.895,245.453 344.051,245.331 344.197,245.197 353.197,236.197 353.347,236.033 353.481,235.855 353.598,235.666 353.697,235.467 353.777,235.259 356.675,226.564 362.497,217.831 362.584,217.691 368.584,207.191" fill="none" stroke="#eeefee" stroke-width="4.8" stroke-dasharray="1.1 2.4 0.7 1.9 1.5 3 0.9 2.2" opacity="0.85"/>
<g fill="#ec7062">
<circle cx="200" cy="406.2" r="5.2"/>
<circle cx="213" cy="438" r="5.2"/>
<circle cx="193.7" cy="445.5" r="5.2"/>
<circle cx="240" cy="491.2" r="5.2"/>
<circle cx="230.5" cy="516.2" r="5.2"/>
<circle cx="273.2" cy="505" r="5.2"/>
<circle cx="279.2" cy="516.2" r="5.2"/>
<circle cx="287" cy="530.5" r="5.2"/>
<circle cx="277" cy="545" r="5.2"/>
<circle cx="296.2" cy="557.5" r="5.2"/>
<circle cx="247.5" cy="523.7" r="5.2"/>
<circle cx="235.8" cy="539.2" r="5.2"/>
<circle cx="227.5" cy="542.5" r="5.2"/>
<circle cx="155.5" cy="561.7" r="5.2"/>
<circle cx="230" cy="575" r="5.2"/>
<circle cx="245.2" cy="573.7" r="5.2"/>
<circle cx="262" cy="568.7" r="5.2"/>
<circle cx="250" cy="586.2" r="5.2"/>
<circle cx="210" cy="590.7" r="5.2"/>
<circle cx="219.5" cy="603.2" r="5.2"/>
<circle cx="194.5" cy="635.9" r="5.2"/>
<circle cx="214.4" cy="665.7" r="5.2"/>
<circle cx="271.2" cy="637.5" r="5.2"/>
<circle cx="287.5" cy="629.2" r="5.2"/>
<circle cx="271.2" cy="652" r="5.2"/>
<circle cx="272" cy="664.5" r="5.2"/>
<circle cx="268" cy="670.7" r="5.2"/>
<circle cx="317.5" cy="585.5" r="5.2"/>
<circle cx="328" cy="477.5" r="5.2"/>
<circle cx="315.5" cy="491" r="5.2"/>
<circle cx="337" cy="499.4" r="5.2"/>
<circle cx="338.5" cy="459" r="5.2"/>
<circle cx="346.2" cy="463" r="5.2"/>
<circle cx="353" cy="471.7" r="5.2"/>
<circle cx="346.2" cy="537.5" r="5.2"/>
<circle cx="326.2" cy="545.5" r="5.2"/>
<circle cx="325.7" cy="557.7" r="5.2"/>
<circle cx="338" cy="564.2" r="5.2"/>
<circle cx="353.7" cy="574.7" r="5.2"/>
<circle cx="377.3" cy="568.7" r="5.2"/>
<circle cx="308.5" cy="609" r="5.2"/>
<circle cx="321.7" cy="603.2" r="5.2"/>
<circle cx="331.7" cy="595.6" r="5.2"/>
<circle cx="335.6" cy="601.2" r="5.2"/>
<circle cx="142.5" cy="682.5" r="5.2"/>
<circle cx="95.7" cy="731.2" r="5.2"/>
<circle cx="142" cy="727.5" r="5.2"/>
<circle cx="167" cy="750.6" r="5.2"/>
<circle cx="198.3" cy="716.2" r="5.2"/>
<circle cx="203.7" cy="722" r="5.2"/>
<circle cx="385" cy="392.5" r="5.2"/>
<circle cx="420.5" cy="390" r="5.2"/>
<circle cx="428" cy="309.5" r="5.2"/>
<circle cx="475" cy="277.5" r="5.2"/>
<circle cx="521.7" cy="284.5" r="5.2"/>
<circle cx="409" cy="554.8" r="5.2"/>
<circle cx="438" cy="554.5" r="5.2"/>
<circle cx="427.5" cy="625" r="5.2"/>
<circle cx="560" cy="655.7" r="5.2"/>
<circle cx="554" cy="500.2" r="5.2"/>
<circle cx="568.7" cy="515.7" r="5.2"/>
<circle cx="652" cy="539" r="5.2"/>
<circle cx="697.7" cy="543.7" r="5.2"/>
<circle cx="549.2" cy="120.7" r="5.2"/>
<circle cx="547.5" cy="311.2" r="5.2"/>
<circle cx="640.6" cy="347.1" r="5.2"/>
<circle cx="610" cy="396.9" r="5.2"/>
<circle cx="673.4" cy="443.6" r="5.2"/>
<circle cx="729.4" cy="438.1" r="5.2"/>
<circle cx="782.5" cy="519.2" r="5.2"/>
</g><g fill="#f3b729">
<circle cx="492.5" cy="201.2" r="5.2"/>
<circle cx="489.2" cy="428.6" r="5.2"/>
<circle cx="501.7" cy="552" r="5.2"/>
</g>
<circle cx="180" cy="509.2" r="5.2" fill="#ec7062"/><path d="M180,504a5.2,5.2 0 0 1 0,10.4z" fill="#f3b729"/>
<circle cx="193.7" cy="548.7" r="5.2" fill="#ec7062"/><path d="M193.7,543.5a5.2,5.2 0 0 1 0,10.4z" fill="#f3b729"/>
<circle cx="553.7" cy="316.2" r="5.2" fill="#ec7062"/><path d="M553.7,311a5.2,5.2 0 0 1 0,10.4z" fill="#f3b729"/>
<circle cx="457.2" cy="568.1" r="5.2" fill="#ec7062"/><path d="M457.2,562.9a5.2,5.2 0 0 1 0,10.4z" fill="#f3b729"/>
<circle cx="468.1" cy="571.7" r="5.2" fill="#ec7062"/><path d="M468.1,566.5a5.2,5.2 0 0 1 0,10.4z" fill="#f3b729"/>
<circle cx="478.3" cy="603.7" r="5.2" fill="#ec7062"/><path d="M478.3,598.5a5.2,5.2 0 0 1 0,10.4z" fill="#f3b729"/>
<circle cx="620" cy="621.2" r="5.2" fill="#ec7062"/><path d="M620,616a5.2,5.2 0 0 1 0,10.4z" fill="#f3b729"/>
</g>
<g fill="none" stroke="#333" stroke-width="0.75">
<polyline points="635.2,117.5 635.2,241"/>
<polyline points="92.7,219.4 479,219.4"/>
<polyline points="92.7,281.9 375,281.9"/>
<polyline points="87.6,379.2 162.6,379.2"/>
<polyline points="87,515 266,515"/>
<polyline points="87,573.2 173.2,573.2"/>
<polyline points="93.2,635.7 117,635.7 117,656.5"/>
<polyline points="279.5,404.5 279.5,492"/>
<polyline points="425.6,490 425.6,534"/>
<polyline points="488.8,490 488.8,553.5"/>
<polyline points="712.1,488.8 603,488.8"/>
<polyline points="712.1,595.7 637.5,595.7"/>
<polyline points="712.1,653.9 627,653.9"/>
<polyline points="311.2,798.1 311.2,627.4"/>
<polyline points="378.6,798.1 378.6,587.3"/>
<polyline points="440.8,798.1 440.8,612"/>
<polyline points="508.7,798.1 508.7,583"/>
</g><g fill="#111">
<circle cx="635.2" cy="241" r="3"/>
<circle cx="479" cy="219.4" r="3"/>
<circle cx="375" cy="281.9" r="3"/>
<circle cx="162.6" cy="379.2" r="3"/>
<circle cx="266" cy="516" r="3"/>
<circle cx="173.2" cy="573.2" r="3"/>
<circle cx="117" cy="656.5" r="3"/>
<circle cx="279.5" cy="492" r="3"/>
<circle cx="425.6" cy="534" r="3"/>
<circle cx="488.8" cy="553.5" r="3"/>
<circle cx="603" cy="488.6" r="3"/>
<circle cx="637.5" cy="595.3" r="3"/>
<circle cx="627" cy="653.9" r="3"/>
<circle cx="311.2" cy="627.4" r="3"/>
<circle cx="378.6" cy="587.3" r="3"/>
<circle cx="440.8" cy="612" r="3"/>
<circle cx="508.7" cy="583" r="3"/>
</g>
<rect x="593.5" y="68.5" width="82.5" height="49.6" fill="#fff" stroke="#969696" stroke-width="1"/>
<text x="634.75" y="85.7" text-anchor="middle" font-size="11.7" font-weight="bold" fill="#111">Rosja *</text>
<text class="n" transform="translate(605.80,108.00) scale(1.22,1)" font-size="20" fill="#111" stroke="#111" stroke-width="0.3">3</text>
<text class="n" transform="translate(618.30,108.00) scale(1.22,1)" font-size="20" fill="#111" stroke="#111" stroke-width="0.3">6</text>
<text transform="translate(630.65,108.00) scale(0.72,1)" font-size="20" fill="#222" style="font-family:'Liberation Serif',serif">+</text>
<text class="n" transform="translate(639.00,108.00) scale(1.22,1)" font-size="20" fill="#111" stroke="#111" stroke-width="0.3">2</text>
<text class="n" transform="translate(651.50,108.00) scale(1.22,1)" font-size="20" fill="#111" stroke="#111" stroke-width="0.3">0</text>
<rect x="28.2" y="219.5" width="63.8" height="46.5" fill="#fff" stroke="#969696" stroke-width="1"/>
<text x="60.1" y="235.15" text-anchor="middle" font-size="11.7" font-weight="bold" fill="#111">Finlandia</text>
<text class="n" transform="translate(45.80,257.45) scale(1.22,1)" font-size="20" fill="#111" stroke="#111" stroke-width="0.3">4</text>
<text transform="translate(58.15,257.45) scale(0.72,1)" font-size="20" fill="#222" style="font-family:'Liberation Serif',serif">+</text>
<text class="n" transform="translate(66.25,257.45) scale(0.84,1)" font-size="20" fill="#111" stroke="#111" stroke-width="0.3">1</text>
<rect x="28.5" y="281.9" width="64.2" height="46.5" fill="#fff" stroke="#969696" stroke-width="1"/>
<text x="60.6" y="297.55" text-anchor="middle" font-size="11.7" font-weight="bold" fill="#111">Szwecja</text>
<text class="n" transform="translate(54.50,319.85) scale(1.22,1)" font-size="20" fill="#111" stroke="#111" stroke-width="0.3">8</text>
<rect x="28.5" y="379.2" width="59.1" height="62.7" fill="#fff" stroke="#969696" stroke-width="1"/>
<text x="58.05" y="396.95" text-anchor="middle" font-size="11.7" font-weight="bold" fill="#111">Wlk.</text>
<text x="58.05" y="411.75" text-anchor="middle" font-size="11.7" font-weight="bold" fill="#111">Brytania</text>
<text class="n" transform="translate(39.40,433.45) scale(0.84,1)" font-size="20" fill="#111" stroke="#111" stroke-width="0.3">1</text>
<text class="n" transform="translate(47.85,433.45) scale(1.22,1)" font-size="20" fill="#111" stroke="#111" stroke-width="0.3">5</text>
<text transform="translate(60.20,433.45) scale(0.72,1)" font-size="20" fill="#222" style="font-family:'Liberation Serif',serif">+</text>
<text class="n" transform="translate(68.30,433.45) scale(0.84,1)" font-size="20" fill="#111" stroke="#111" stroke-width="0.3">1</text>
<rect x="28.7" y="515" width="58.3" height="46.2" fill="#fff" stroke="#969696" stroke-width="1"/>
<text x="57.85" y="530.5" text-anchor="middle" font-size="11.7" font-weight="bold" fill="#111">Belgia</text>
<text class="n" transform="translate(51.75,552.80) scale(1.22,1)" font-size="20" fill="#111" stroke="#111" stroke-width="0.3">7</text>
<rect x="28.7" y="573.2" width="58.3" height="46.3" fill="#fff" stroke="#969696" stroke-width="1"/>
<text x="57.85" y="588.75" text-anchor="middle" font-size="11.7" font-weight="bold" fill="#111">Francja</text>
<text class="n" transform="translate(37.30,611.05) scale(1.22,1)" font-size="20" fill="#111" stroke="#111" stroke-width="0.3">5</text>
<text class="n" transform="translate(49.80,611.05) scale(1.22,1)" font-size="20" fill="#111" stroke="#111" stroke-width="0.3">8</text>
<text transform="translate(62.15,611.05) scale(0.72,1)" font-size="20" fill="#222" style="font-family:'Liberation Serif',serif">+</text>
<text class="n" transform="translate(70.25,611.05) scale(0.84,1)" font-size="20" fill="#111" stroke="#111" stroke-width="0.3">1</text>
<rect x="28.7" y="635.7" width="64.5" height="46.3" fill="#fff" stroke="#969696" stroke-width="1"/>
<text x="60.95" y="651.25" text-anchor="middle" font-size="11.7" font-weight="bold" fill="#111">Hiszpania</text>
<text class="n" transform="translate(54.85,673.55) scale(1.22,1)" font-size="20" fill="#111" stroke="#111" stroke-width="0.3">7</text>
<rect x="248.2" y="358.5" width="61.5" height="45.5" fill="#fff" stroke="#969696" stroke-width="1"/>
<text x="278.95" y="373.65" text-anchor="middle" font-size="11.7" font-weight="bold" fill="#111">Holandia</text>
<text class="n" transform="translate(274.75,395.95) scale(0.84,1)" font-size="20" fill="#111" stroke="#111" stroke-width="0.3">1</text>
<rect x="399.75" y="442.75" width="51.75" height="47.25" fill="#fff" stroke="#969696" stroke-width="1"/>
<text x="425.625" y="458.775" text-anchor="middle" font-size="11.7" font-weight="bold" fill="#111">Czechy</text>
<text class="n" transform="translate(419.52,481.07) scale(1.22,1)" font-size="20" fill="#111" stroke="#111" stroke-width="0.3">6</text>
<rect x="459.4" y="442.75" width="59" height="47.25" fill="#fff" stroke="#969696" stroke-width="1"/>
<text x="488.9" y="458.775" text-anchor="middle" font-size="11.7" font-weight="bold" fill="#111">Słowacja</text>
<text class="n" transform="translate(472.45,481.07) scale(1.22,1)" font-size="20" fill="#111" stroke="#111" stroke-width="0.3">4</text>
<text transform="translate(484.80,481.07) scale(0.72,1)" font-size="20" fill="#222" style="font-family:'Liberation Serif',serif">+</text>
<text class="n" transform="translate(493.15,481.07) scale(1.22,1)" font-size="20" fill="#111" stroke="#111" stroke-width="0.3">4</text>
<rect x="712.1" y="488.8" width="58.4" height="46.3" fill="#fff" stroke="#969696" stroke-width="1"/>
<text x="741.3" y="504.35" text-anchor="middle" font-size="11.7" font-weight="bold" fill="#111">Ukraina</text>
<text class="n" transform="translate(730.85,526.65) scale(0.84,1)" font-size="20" fill="#111" stroke="#111" stroke-width="0.3">1</text>
<text class="n" transform="translate(739.30,526.65) scale(1.22,1)" font-size="20" fill="#111" stroke="#111" stroke-width="0.3">5</text>
<rect x="712.1" y="595.7" width="58.7" height="47.3" fill="#fff" stroke="#969696" stroke-width="1"/>
<text x="741.45" y="611.75" text-anchor="middle" font-size="11.7" font-weight="bold" fill="#111">Rumunia</text>
<text class="n" transform="translate(725.00,634.05) scale(1.22,1)" font-size="20" fill="#111" stroke="#111" stroke-width="0.3">2</text>
<text transform="translate(737.35,634.05) scale(0.72,1)" font-size="20" fill="#222" style="font-family:'Liberation Serif',serif">+</text>
<text class="n" transform="translate(745.70,634.05) scale(1.22,1)" font-size="20" fill="#111" stroke="#111" stroke-width="0.3">2</text>
<rect x="712.1" y="653.9" width="58.7" height="48.1" fill="#fff" stroke="#969696" stroke-width="1"/>
<text x="741.45" y="670.35" text-anchor="middle" font-size="11.7" font-weight="bold" fill="#111">Bułgaria</text>
<text class="n" transform="translate(735.35,692.65) scale(1.22,1)" font-size="20" fill="#111" stroke="#111" stroke-width="0.3">2</text>
<rect x="277.1" y="798.1" width="69.4" height="47.3" fill="#fff" stroke="#969696" stroke-width="1"/>
<text x="311.8" y="814.15" text-anchor="middle" font-size="11.7" font-weight="bold" fill="#111">Szwajcaria</text>
<text class="n" transform="translate(305.70,836.45) scale(1.22,1)" font-size="20" fill="#111" stroke="#111" stroke-width="0.3">5</text>
<rect x="351.9" y="798.1" width="52.6" height="47.3" fill="#fff" stroke="#969696" stroke-width="1"/>
<text x="378.2" y="814.15" text-anchor="middle" font-size="11.7" font-weight="bold" fill="#111">Niemcy</text>
<text class="n" transform="translate(367.75,836.45) scale(0.84,1)" font-size="20" fill="#111" stroke="#111" stroke-width="0.3">1</text>
<text class="n" transform="translate(376.20,836.45) scale(1.22,1)" font-size="20" fill="#111" stroke="#111" stroke-width="0.3">7</text>
<rect x="409.5" y="798.1" width="61.4" height="47.3" fill="#fff" stroke="#969696" stroke-width="1"/>
<text x="440.2" y="814.15" text-anchor="middle" font-size="11.7" font-weight="bold" fill="#111">Słowenia</text>
<text class="n" transform="translate(436.00,836.45) scale(0.84,1)" font-size="20" fill="#111" stroke="#111" stroke-width="0.3">1</text>
<rect x="484.4" y="798.1" width="49.1" height="47.3" fill="#fff" stroke="#969696" stroke-width="1"/>
<text x="508.95" y="814.15" text-anchor="middle" font-size="11.7" font-weight="bold" fill="#111">Węgry</text>
<text class="n" transform="translate(494.65,836.45) scale(1.22,1)" font-size="20" fill="#111" stroke="#111" stroke-width="0.3">4</text>
<text transform="translate(507.00,836.45) scale(0.72,1)" font-size="20" fill="#222" style="font-family:'Liberation Serif',serif">+</text>
<text class="n" transform="translate(515.10,836.45) scale(0.84,1)" font-size="20" fill="#111" stroke="#111" stroke-width="0.3">1</text>
<text x="28" y="49" font-size="19.8" font-weight="bold" fill="#111" stroke="#111" stroke-width="0.5" textLength="297" lengthAdjust="spacingAndGlyphs">Elektrownie atomowe i reaktory</text>
<circle cx="50.4" cy="80.8" r="7.4" fill="#ec7062"/><circle cx="50.5" cy="100.7" r="7.4" fill="#f3b729"/>
<text x="80.7" y="87" font-size="13" fill="#222" textLength="185.8" lengthAdjust="spacingAndGlyphs">działające elektrownie atomowe</text>
<text x="80.7" y="106.2" font-size="13" fill="#222" textLength="240.4" lengthAdjust="spacingAndGlyphs">planowane nowe elektrownie lub reaktory</text>
<rect x="28.3" y="117.9" width="41.8" height="35.3" fill="#000" opacity="0.22" filter="url(#sh)"/>
<rect x="27.3" y="116.9" width="41.8" height="35.3" fill="#fff"/>
<line x1="47.7" y1="152.2" x2="47.7" y2="158" stroke="#333" stroke-width="0.7"/>
<text x="48.2" y="129.9" text-anchor="middle" font-size="8.8" font-weight="bold" fill="#111">Kraj</text>
<text class="n" x="48" y="146.5" text-anchor="middle" font-size="15.5" fill="#111" stroke="#111" stroke-width="0.3">1</text>
<circle cx="47.7" cy="158.3" r="2.2" fill="#111"/>
<text x="48" y="192" text-anchor="middle" font-size="24" fill="#111">*</text>
<text x="80.7" y="146.2" font-size="13" fill="#222" textLength="134.5" lengthAdjust="spacingAndGlyphs">łączna liczba reaktorów</text>
<text x="80.7" y="184" font-size="13" fill="#222" textLength="281.3" lengthAdjust="spacingAndGlyphs">w całej Federacji Rosyjskiej, również poza Europą</text>
<text x="28.6" y="885.4" font-size="10.3" fill="#222" textLength="220.4" lengthAdjust="spacingAndGlyphs">ŹRÓDŁA: EUROSTAT, WORLD-NUCLEAR.ORG</text>
</svg></body></html>
